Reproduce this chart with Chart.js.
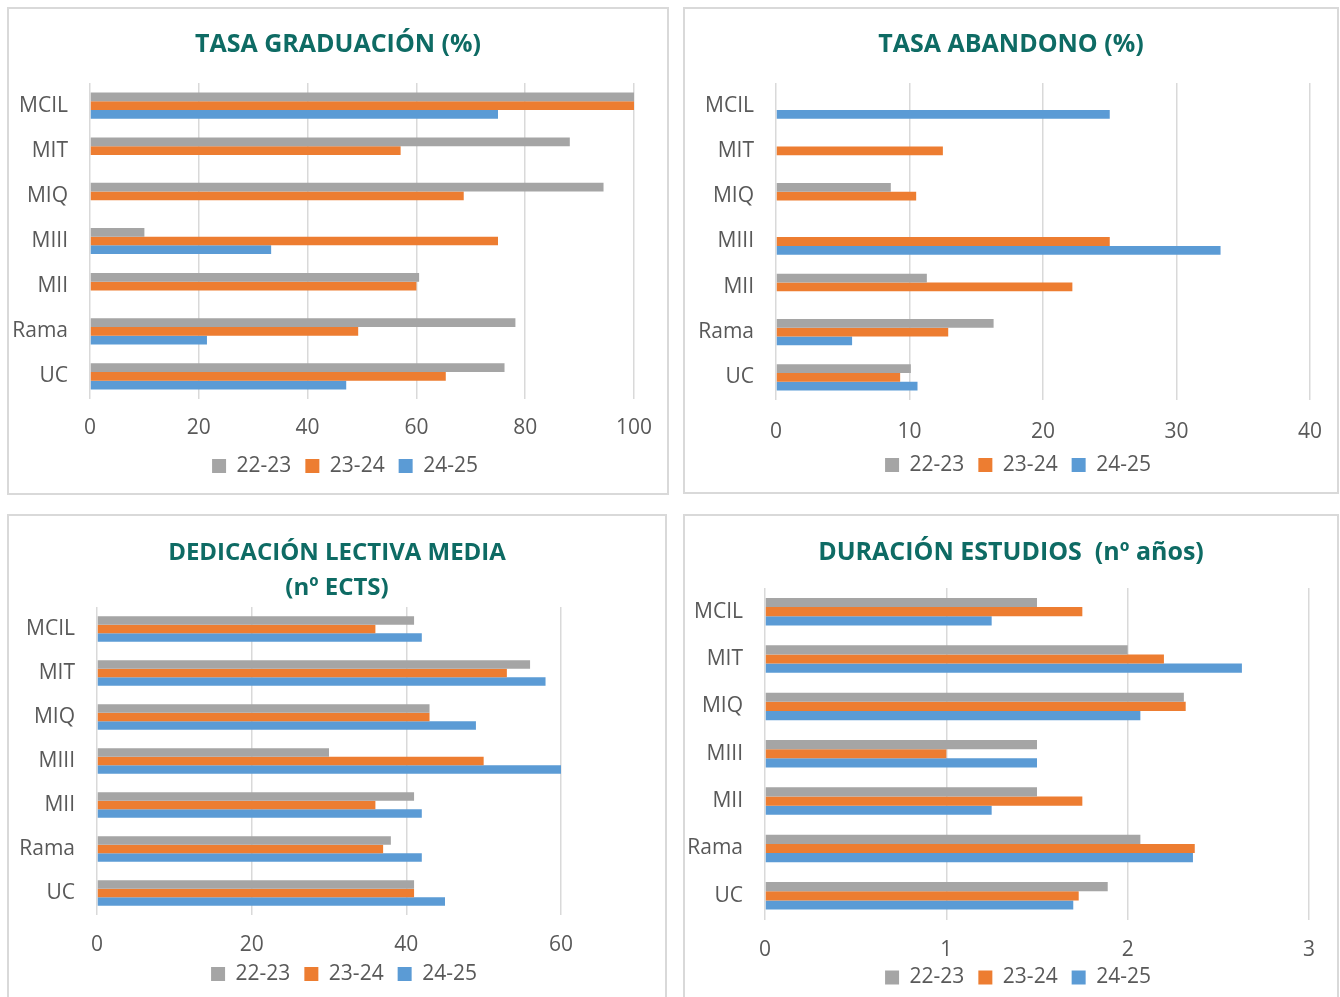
<!DOCTYPE html>
<html>
<head>
<meta charset="utf-8">
<script src="https://cdn.jsdelivr.net/npm/chart.js@4/dist/chart.umd.min.js"></script>
<style>
  html, body { margin: 0; padding: 0; background: #ffffff; width: 1340px; height: 997px; overflow: hidden; }
  .panel { position: absolute; }
  .panel canvas { position: absolute; left: 0; top: 0; }
  .frame { position: absolute; box-sizing: border-box; border: 2px solid #d9d9d9; pointer-events: none; }
</style>
</head>
<body>
<div class="panel" id="p1"><canvas id="c1"></canvas></div>
<div class="panel" id="p2"><canvas id="c2"></canvas></div>
<div class="panel" id="p3"><canvas id="c3"></canvas></div>
<div class="panel" id="p4"><canvas id="c4"></canvas></div>
<div class="frame" style="left:7px;top:7px;width:662px;height:488px"></div>
<div class="frame" style="left:683px;top:7px;width:656px;height:487px"></div>
<div class="frame" style="left:7px;top:514px;width:660px;height:500px"></div>
<div class="frame" style="left:683px;top:514px;width:656px;height:500px"></div>
<script>
// ---- Data ----
const categories = ['MCIL', 'MIT', 'MIQ', 'MIII', 'MII', 'Rama', 'UC'];
const seriesLabels = ['22-23', '23-24', '24-25'];

// Tasa graduación (%)
const grad2223 = [100, 88.2, 94.4, 10, 60.5, 78.2, 76.2];
const grad2324 = [100, 57.1, 68.7, 75, 60, 49.3, 65.4];
const grad2425 = [75, null, null, 33.3, null, 21.5, 47.1];

// Tasa abandono (%)
const aband2223 = [null, null, 8.6, null, 11.3, 16.3, 10.1];
const aband2324 = [null, 12.5, 10.5, 25, 22.2, 12.9, 9.3];
const aband2425 = [25, null, null, 33.3, null, 5.7, 10.6];

// Dedicación lectiva media (nº ECTS)
const ded2223 = [41, 56, 43, 30, 41, 38, 41];
const ded2324 = [36, 53, 43, 50, 36, 37, 41];
const ded2425 = [42, 58, 49, 60, 42, 42, 45];

// Duración estudios (nº años)
const dur2223 = [1.5, 2.0, 2.31, 1.5, 1.5, 2.07, 1.89];
const dur2324 = [1.75, 2.2, 2.32, 1.0, 1.75, 2.37, 1.73];
const dur2425 = [1.25, 2.63, 2.07, 1.5, 1.25, 2.36, 1.70];

// Axis ranges / tick steps
const gradAxis = [0, 100, 20];
const abandAxis = [0, 40, 10];
const dedAxis = [0, 60, 20];
const durAxis = [0, 3, 1];

const titles = [
  'TASA GRADUACIÓN (%)',
  'TASA ABANDONO (%)',
  ['DEDICACIÓN LECTIVA MEDIA', '(nº ECTS)'],
  'DURACIÓN ESTUDIOS  (nº años)'
];

// ---- Styling ----
const colors = ['#a5a5a5', '#ed7d31', '#5b9bd5'];
const FONT = "'Open Sans', 'DejaVu Sans', sans-serif";
const textColor = '#595959';
const titleColor = '#0e6b64';

// shifts the legend block slightly to the right, as in the original
const legendShift = {
  id: 'legendShift',
  afterLayout(chart) {
    if (chart.legend) { chart.legend.left += 7; chart.legend.right += 7; }
  }
};

function noClip(s) { s._computeLabelArea = () => undefined; }

function build(id, panelId, geo, title, series, axis) {
  const panel = document.getElementById(panelId);
  panel.style.left = geo.x + 'px';
  panel.style.top = geo.y + 'px';
  panel.style.width = geo.w + 'px';
  panel.style.height = geo.h + 'px';
  const canvas = document.getElementById(id);
  canvas.width = geo.w; canvas.height = geo.h;
  canvas.style.width = geo.w + 'px'; canvas.style.height = geo.h + 'px';

  new Chart(canvas, {
    type: 'bar',
    plugins: [legendShift],
    data: {
      labels: categories,
      datasets: series.map((d, i) => ({
        label: seriesLabels[i],
        data: d,
        backgroundColor: colors[i],
        borderWidth: 0,
        categoryPercentage: 0.58,
        barPercentage: 1.0
      }))
    },
    options: {
      indexAxis: 'y',
      responsive: false,
      animation: false,
      layout: { padding: { left: 0, right: 0, top: 0, bottom: geo.pb } },
      plugins: {
        tooltip: { enabled: false },
        title: {
          display: true,
          text: title,
          color: titleColor,
          font: { family: FONT, size: geo.tfs, weight: 'bold', lineHeight: geo.tlh },
          padding: { top: geo.tpt, bottom: geo.tpb }
        },
        legend: {
          display: true,
          position: 'bottom',
          labels: {
            color: textColor,
            font: { family: FONT, size: 21 },
            boxWidth: 14, boxHeight: 14,
            padding: 14
          }
        }
      },
      scales: {
        x: {
          type: 'linear',
          min: axis[0], max: axis[1],
          grid: { color: '#d9d9d9', lineWidth: 1.5, drawTicks: false },
          border: { display: false },
          ticks: {
            stepSize: axis[2],
            color: textColor,
            font: { family: FONT, size: 21 },
            padding: geo.xtp
          },
          afterFit: s => { s.height = geo.hx; s.paddingLeft = 0; s.paddingRight = geo.pr; noClip(s); }
        },
        y: {
          grid: { display: false, drawTicks: false },
          border: { display: false },
          ticks: {
            color: textColor,
            font: { family: FONT, size: 21 },
            padding: 22
          },
          afterFit: s => { s.width = geo.yw; s.paddingTop = 0; s.paddingBottom = 0; noClip(s); }
        }
      }
    }
  });
}

build('c1', 'p1',
  { x: 7, y: 7, w: 662, h: 488, pr: 35, pb: 8.5, yw: 83, hx: 42.5, xtp: 16.4, tfs: 25, tlh: 1.2, tpt: 23, tpb: 23 },
  titles[0], [grad2223, grad2324, grad2425], gradAxis);

build('c2', 'p2',
  { x: 683, y: 7, w: 656, h: 487, pr: 29, pb: 8.5, yw: 93, hx: 40.5, xtp: 19.4, tfs: 25, tlh: 1.2, tpt: 23, tpb: 23 },
  titles[1], [aband2223, aband2324, aband2425], abandAxis);

build('c3', 'p3',
  { x: 7, y: 515, w: 660, h: 490, pr: 106, pb: 10.5, yw: 90, hx: 34.5, xtp: 17.4, tfs: 24, tlh: 1.46, tpt: 20.5, tpb: 1.5 },
  titles[2], [ded2223, ded2324, ded2425], dedAxis);

build('c4', 'p4',
  { x: 683, y: 515, w: 656, h: 491, pr: 30, pb: 8, yw: 82, hx: 33.5, xtp: 18.4, tfs: 25, tlh: 1.2, tpt: 23, tpb: 20 },
  titles[3], [dur2223, dur2324, dur2425], durAxis);
</script>
</body>
</html>
